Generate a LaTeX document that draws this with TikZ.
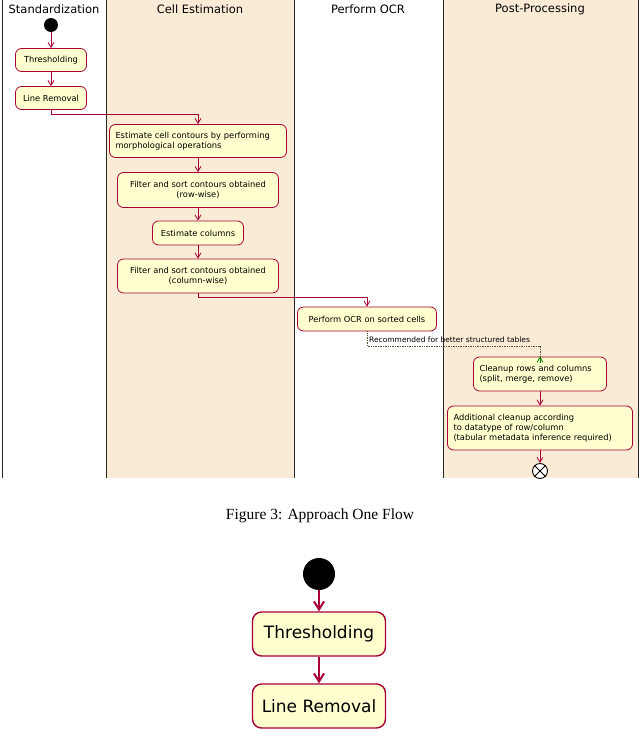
\documentclass[tikz,border=0pt]{standalone}
\usepackage{fontspec}
\setmainfont{DejaVu Sans}
\newfontfamily\capfont{Liberation Serif}
\usetikzlibrary{arrows.meta}
\definecolor{boxfill}{HTML}{FEFECE}
\definecolor{boxline}{HTML}{A80036}
\definecolor{lane}{HTML}{FAEBD7}
\begin{document}
\begin{tikzpicture}[x=1pt,y=-1pt,
  act/.style={draw=boxline,fill=boxfill,rounded corners=6pt,line width=0.8pt,font=\fontsize{8.3}{10}\selectfont,align=center,inner sep=0pt},
  actl/.style={act,align=left,text width=#1,inner xsep=6pt},
  big/.style={draw=boxline,fill=boxfill,rounded corners=9pt,line width=1.4pt,font=\fontsize{17}{19}\selectfont,minimum width=133pt,minimum height=44pt,inner sep=0pt},
  flow/.style={draw=boxline,line width=0.8pt,-{Straight Barb[length=5pt,width=6pt]}},
  bigflow/.style={draw=boxline,line width=2pt,-{Straight Barb[length=8pt,width=10pt]}},
  hdr/.style={font=\fontsize{11.5}{13}\selectfont}]
\useasboundingbox (0,0) rectangle (640,736);
% lanes
\fill[lane] (106,0) rectangle (294,478);
\fill[lane] (443,0) rectangle (638,478);
\foreach \x in {2,106,294,443,638} \draw[line width=1pt,black!85] (\x,0) -- (\x,478);
\node[hdr] (h1) at (54,9) {Standardization};
\node[hdr] (h2) at (200,9) {Cell Estimation};
\node[hdr] (h3) at (368,9) {Perform OCR};
\node[hdr] (h4) at (540,9) {Post-Processing};
% nodes
\node[circle,fill=black,minimum size=14pt,inner sep=0pt] (start) at (51,25) {};
\node[act,minimum width=71pt,minimum height=23pt] (thr) at (51,60) {Thresholding};
\node[act,minimum width=71pt,minimum height=23pt] (lr) at (51,98) {Line Removal};
\node[actl=165pt,minimum height=33pt] (ecc) at (198,141) {Estimate cell contours by performing\\morphological operations};
\node[act,minimum width=161pt,minimum height=35pt] (fr) at (198,190) {Filter and sort contours obtained\\(row-wise)};
\node[act,minimum width=91pt,minimum height=24pt] (ec) at (198,233) {Estimate columns};
\node[act,minimum width=161pt,minimum height=34pt] (fc) at (198,276) {Filter and sort contours obtained\\(column-wise)};
\node[act,minimum width=139pt,minimum height=24pt] (ocr) at (367,319) {Perform OCR on sorted cells};
\node[actl=121pt,minimum height=34pt] (cl) at (540,374) {Cleanup rows and columns\\(split, merge, remove)};
\node[actl=173pt,minimum height=44pt] (ad) at (540,428) {Additional cleanup according\\to datatype of row/column\\(tabular metadata inference required)};
\node[circle,draw=black,fill=white,line width=0.9pt,minimum size=15pt,inner sep=0pt] (end) at (540,471) {};
\draw[line width=1pt] (end.north west) -- (end.south east) (end.north east) -- (end.south west);
% connectors
\draw[flow] (start) -- (thr);
\draw[flow] (thr) -- (lr);
\coordinate (a1) at (51,114);
\coordinate (a2) at (198,114);
\draw[flow] (lr.south) -- (a1) -- (a2) -- (ecc.north);
\draw[flow] (ecc) -- (fr);
\draw[flow] (fr) -- (ec);
\draw[flow] (ec) -- (fc);
\coordinate (b1) at (198,297);
\coordinate (b2) at (367,297);
\draw[flow] (fc.south) -- (b1) -- (b2) -- (ocr.north);
\coordinate (c1) at (367,346);
\coordinate (c2) at (540,346);
\draw[densely dotted,line width=0.7pt,black!50!olive] (ocr.south) -- (c1) -- (c2) -- ([yshift=-6pt]cl.north);
\draw[draw=green!50!black,line width=0.8pt,-{Straight Barb[length=5pt,width=6pt]}] ([yshift=-6pt]cl.north) -- (cl.north);
\node[anchor=west,font=\fontsize{7.5}{8}\selectfont,inner sep=1pt] (rec) at (368,340) {Recommended for better structured tables};
\draw[flow] (cl) -- (ad);
\draw[flow] (ad) -- (end);
% caption
\node[font=\capfont\fontsize{15.5}{17}\selectfont] (cap) at (320,516) {Figure 3: Approach One Flow};
% bottom zoomed part
\node[circle,fill=black,minimum size=32pt,inner sep=0pt] (bs) at (319,574) {};
\node[big] (bt) at (319,634) {Thresholding};
\node[big] (bl) at (319,706) {Line Removal};
\draw[bigflow] (bs) -- (bt);
\draw[bigflow] (bt) -- (bl);
\end{tikzpicture}
\end{document}
